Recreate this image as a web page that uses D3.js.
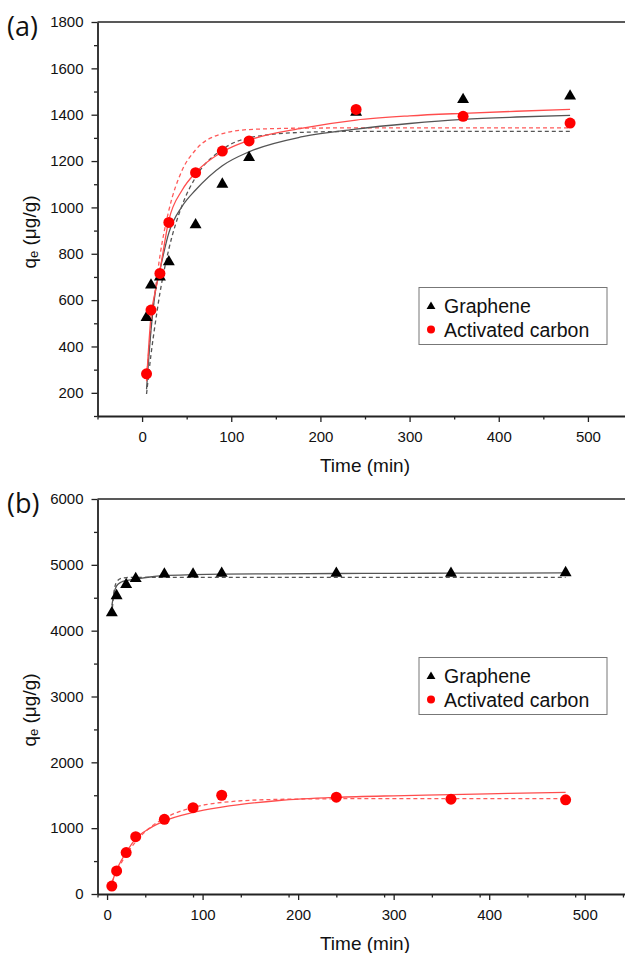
<!DOCTYPE html>
<html>
<head>
<meta charset="utf-8">
<script src="https://cdn.jsdelivr.net/npm/d3@7"></script>
<style>
  body { margin: 0; background: #fff; }
  svg text { font-family: "Liberation Sans", Arial, sans-serif; fill: #111; }
  svg text.panel-label { font-family: "Open Sans", sans-serif; }
</style>
</head>
<body>
<svg width="625" height="953"></svg>
<script>
// measured sampling times (min)
const times = [5, 10, 20, 30, 60, 90, 120, 240, 360, 480];

// panel (a) measured q_e values
const grapheneA = [525, 665, 700, 765, 925, 1100, 1215, 1410, 1465, 1480];
const carbonA = [282, 557, 715, 935, 1150, 1243, 1287, 1423, 1393, 1364];

// panel (b) measured q_e values
const grapheneB = [4270, 4530, 4700, 4790, 4860, 4860, 4870, 4870, 4870, 4880];
const carbonB = [120, 350, 630, 870, 1135, 1312, 1500, 1470, 1440, 1430];

// fit curves (solid = second order, dashed = first order)
const fitTimesA = [5, 10, 15, 20, 30, 45, 60, 90, 120, 180, 240, 300, 360, 420, 480];
const grapheneSolidA = [215, 470, 640, 730, 890, 1005, 1075, 1180, 1240, 1305, 1338, 1362, 1380, 1390, 1397];
const grapheneDashA = [195, 365, 505, 630, 820, 1010, 1130, 1250, 1300, 1324, 1328, 1328, 1328, 1328, 1328];
const carbonSolidA = [250, 530, 640, 730, 945, 1075, 1150, 1240, 1290, 1342, 1377, 1395, 1406, 1415, 1423];
const carbonDashA = [268, 481, 650, 790, 987, 1161, 1248, 1318, 1336, 1342, 1343, 1343, 1343, 1343, 1343];

const fitTimesB = [5, 7, 10, 15, 20, 30, 45, 60, 90, 120, 180, 240, 300, 360, 420, 480];
const grapheneSolidB = [4380, 4545, 4680, 4740, 4760, 4782, 4815, 4835, 4850, 4858, 4864, 4868, 4871, 4873, 4875, 4877];
const grapheneDashB = [4240, 4560, 4740, 4795, 4806, 4810, 4810, 4810, 4810, 4810, 4810, 4810, 4810, 4810, 4810, 4810];
const carbonSolidB = [150, 250, 370, 510, 630, 840, 1000, 1110, 1240, 1320, 1420, 1468, 1492, 1508, 1528, 1545];
const carbonDashB = [180, 245, 340, 475, 595, 795, 1010, 1150, 1315, 1390, 1438, 1447, 1450, 1450, 1450, 1450];

// axis ticks
const xTicks = [0, 100, 200, 300, 400, 500];
const yTicksA = [200, 400, 600, 800, 1000, 1200, 1400, 1600, 1800];
const yTicksB = [0, 1000, 2000, 3000, 4000, 5000, 6000];

const legendNames = ["Graphene", "Activated carbon"];

const svg = d3.select("svg");
const zip = (xs, ys) => xs.map((x, i) => [x, ys[i]]);

function drawPanel(p) {
  const g = svg.append("g");
  const x = d3.scaleLinear().domain(p.xDomain).range([97.5, 632.5]);
  const y = d3.scaleLinear().domain(p.yDomain).range([p.bottom, p.top]);

  // frame top line
  g.append("line")
    .attr("x1", 97.5).attr("x2", 632.5)
    .attr("y1", p.top).attr("y2", p.top)
    .attr("stroke", "#222").attr("stroke-width", 1.6);

  // minor ticks
  const xMinor = d3.range(p.xDomain[0], p.xDomain[1] + 1, 50).filter((v) => !xTicks.includes(v));
  const yMinor = d3.range(p.yDomain[0], p.yDomain[1] + 1, p.yStep / 2).filter((v) => !p.yTicks.includes(v));

  g.append("g")
    .attr("transform", `translate(0,${p.bottom})`)
    .call(d3.axisBottom(x).tickValues(xMinor).tickSize(3.5).tickFormat(""))
    .call((a) => a.select(".domain").remove());
  g.append("g")
    .attr("transform", "translate(97.5,0)")
    .call(d3.axisLeft(y).tickValues(yMinor).tickSize(3.5).tickFormat(""))
    .call((a) => a.select(".domain").remove());

  const xAxis = g.append("g")
    .attr("transform", `translate(0,${p.bottom})`)
    .call(d3.axisBottom(x).tickValues(xTicks).tickFormat(d3.format("d"))
      .tickSize(6).tickPadding(9).tickSizeOuter(0));
  const yAxis = g.append("g")
    .attr("transform", "translate(97.5,0)")
    .call(d3.axisLeft(y).tickValues(p.yTicks).tickFormat(d3.format("d"))
      .tickSize(6).tickPadding(8).tickSizeOuter(0));

  [xAxis, yAxis].forEach((a) => {
    a.select(".domain").attr("stroke", "#222").attr("stroke-width", 1.8);
    a.selectAll("text").attr("font-size", 15);
  });
  g.selectAll(".tick line").attr("stroke", "#222").attr("stroke-width", 1.3);

  // fit lines
  const line = d3.line().x((d) => x(d[0])).y((d) => y(d[1])).curve(d3.curveMonotoneX);
  const fits = [
    { pts: zip(p.fitTimes, p.gDash), color: "#555", dash: "4,3" },
    { pts: zip(p.fitTimes, p.cDash), color: "#ff5a5a", dash: "4,3" },
    { pts: zip(p.fitTimes, p.gSolid), color: "#555", dash: null },
    { pts: zip(p.fitTimes, p.cSolid), color: "#ff4d4d", dash: null },
  ];
  g.selectAll("path.fit")
    .data(fits)
    .join("path")
    .attr("class", "fit")
    .attr("d", (d) => line(d.pts))
    .attr("fill", "none")
    .attr("stroke", (d) => d.color)
    .attr("stroke-width", 1.3)
    .attr("stroke-dasharray", (d) => d.dash);

  // points
  g.selectAll("path.tri")
    .data(zip(times, p.graphene))
    .join("path")
    .attr("class", "tri")
    .attr("d", d3.symbol(d3.symbolTriangle, 62))
    .attr("transform", (d) => `translate(${x(d[0])},${y(d[1])})`)
    .attr("fill", "#000");
  g.selectAll("circle.dot")
    .data(zip(times, p.carbon))
    .join("circle")
    .attr("class", "dot")
    .attr("cx", (d) => x(d[0]))
    .attr("cy", (d) => y(d[1]))
    .attr("r", 5.5)
    .attr("fill", "#ff0000");

  // titles
  g.append("text")
    .attr("x", 365).attr("y", p.xTitleY)
    .attr("text-anchor", "middle")
    .attr("font-size", 19)
    .text("Time (min)");

  const yl = g.append("text")
    .attr("transform", `translate(36,${p.yTitleY}) rotate(-90)`)
    .attr("text-anchor", "middle")
    .attr("font-size", 19);
  yl.append("tspan").text("q");
  yl.append("tspan").attr("font-size", 13).attr("dy", 2).text("e");
  yl.append("tspan").attr("dy", -2).text(" (\u03bcg/g)");

  g.append("text")
    .attr("class", "panel-label")
    .attr("x", 7).attr("y", p.top + 14)
    .attr("font-size", 27)
    .text(p.label);

  // legend
  const lg = g.append("g").attr("transform", `translate(419,${p.legendTop})`);
  lg.append("rect")
    .attr("width", 188).attr("height", 57)
    .attr("fill", "#fff").attr("stroke", "#777").attr("stroke-width", 1);
  lg.append("path")
    .attr("d", d3.symbol(d3.symbolTriangle, 34))
    .attr("transform", "translate(12,19)");
  lg.append("circle").attr("cx", 12).attr("cy", 42).attr("r", 4).attr("fill", "#ff0000");
  lg.selectAll("text")
    .data(legendNames)
    .join("text")
    .attr("x", 25)
    .attr("y", (d, i) => 25.5 + i * 23.5)
    .attr("font-size", 19.5)
    .text((d) => d);
}

drawPanel({
  label: "(a)", top: 22, bottom: 416, xDomain: [-50, 550], yDomain: [100, 1800], yStep: 200,
  yTicks: yTicksA, graphene: grapheneA, carbon: carbonA,
  fitTimes: fitTimesA, gSolid: grapheneSolidA, gDash: grapheneDashA, cSolid: carbonSolidA, cDash: carbonDashA,
  xTitleY: 472, yTitleY: 232, legendTop: 287.5,
});

drawPanel({
  label: "(b)", top: 499, bottom: 894, xDomain: [-10, 550], yDomain: [0, 6000], yStep: 1000,
  yTicks: yTicksB, graphene: grapheneB, carbon: carbonB,
  fitTimes: fitTimesB, gSolid: grapheneSolidB, gDash: grapheneDashB, cSolid: carbonSolidB, cDash: carbonDashB,
  xTitleY: 950, yTitleY: 710, legendTop: 657.5,
});
</script>
</body>
</html>
